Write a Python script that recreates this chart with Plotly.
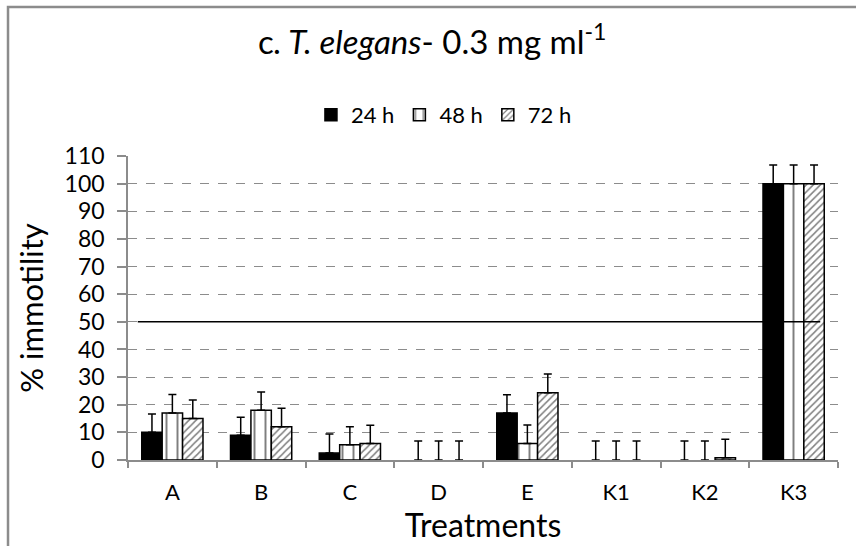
import plotly.graph_objects as go

categories = ["A", "B", "C", "D", "E", "K1", "K2", "K3"]
series_names = ["24 h", "48 h", "72 h"]
values_24h = [10, 9, 2.5, 0, 17, 0, 0, 100]
values_48h = [17, 18, 5.5, 0, 6, 0, 0, 100]
values_72h = [15, 12, 6, 0, 24.3, 0, 0.8, 100]
err_24h = [6.6, 6.5, 6.9, 6.9, 6.6, 6.9, 6.9, 6.7]
err_48h = [6.7, 6.6, 6.5, 6.9, 6.7, 6.9, 6.9, 6.7]
err_72h = [6.7, 6.7, 6.6, 6.9, 6.8, 6.9, 6.7, 6.7]
threshold = 50
y_ticks = list(range(0, 111, 10))

FONT = "Lato"
GRAY = "#8c8c8c"

def err(arr):
    return dict(type="data", array=arr, arrayminus=[0] * len(arr), symmetric=False,
                color="black", thickness=1.5, width=4)

def outline(vals):
    return [1.5 if v > 0 else 0 for v in vals]

fig = go.Figure()
fig.add_trace(go.Bar(
    name=series_names[0], x=categories, y=values_24h, error_y=err(err_24h),
    marker=dict(color="black", line=dict(color="black", width=outline(values_24h))),
))
fig.add_trace(go.Bar(
    name=series_names[1], x=categories, y=values_48h, error_y=err(err_48h),
    marker=dict(color="white", line=dict(color="black", width=outline(values_48h)),
                pattern=dict(shape="|", size=11, solidity=0.18, fgcolor="black", bgcolor="white")),
))
fig.add_trace(go.Bar(
    name=series_names[2], x=categories, y=values_72h, error_y=err(err_72h),
    marker=dict(color="white", line=dict(color="black", width=outline(values_72h)),
                pattern=dict(shape="/", size=5, solidity=0.3, fgcolor="black", bgcolor="white")),
))

fig.add_shape(type="line", xref="x", yref="y", x0=-0.39, x1=7.3, y0=threshold, y1=threshold,
              line=dict(color="black", width=1.5), layer="above")
fig.add_shape(type="rect", xref="paper", yref="paper", x0=-0.169, x1=1.3, y0=-1, y1=1.49,
              line=dict(color=GRAY, width=2.5), fillcolor="rgba(0,0,0,0)")

fig.update_layout(
    width=856, height=546,
    margin=dict(l=128, r=18, t=156, b=86),
    paper_bgcolor="white", plot_bgcolor="white",
    barmode="group", bargap=0.31, bargroupgap=0,
    font=dict(family=FONT, color="black"),
    title=dict(text="c<i>. T. elegans</i>- 0.3 mg ml<sup>-1</sup>", x=0.505, xanchor="center",
               y=1 - 42 / 546, yanchor="middle", yref="container",
               font=dict(family=FONT, size=33, color="black")),
    legend=dict(orientation="h", x=0.445, xanchor="center", y=1.135, yanchor="middle",
                font=dict(family=FONT, size=22, color="black"), bgcolor="rgba(0,0,0,0)",
                traceorder="normal", itemwidth=30),
    showlegend=True,
)
fig.update_xaxes(
    type="category", showline=True, linecolor=GRAY, linewidth=1.5,
    ticks="outside", tickson="boundaries", ticklen=6, tickcolor=GRAY, tickwidth=1.5,
    tickfont=dict(family=FONT, size=22, color="black"), ticklabelstandoff=12,
    title=dict(text="Treatments", font=dict(family=FONT, size=32, color="black"), standoff=2),
    showgrid=False,
)
fig.update_yaxes(
    range=[0, 110], tickvals=y_ticks, showline=True, linecolor=GRAY, linewidth=1.5,
    ticks="outside", ticklen=9, tickcolor=GRAY, tickwidth=1.5,
    tickfont=dict(family=FONT, size=23, color="black"), ticklabelstandoff=8,
    showgrid=True, gridcolor=GRAY, gridwidth=1.2, griddash="dash",
    zeroline=False,
    title=dict(text="% immotility", font=dict(family=FONT, size=31, color="black"), standoff=12),
)

fig.write_html("out.html")
